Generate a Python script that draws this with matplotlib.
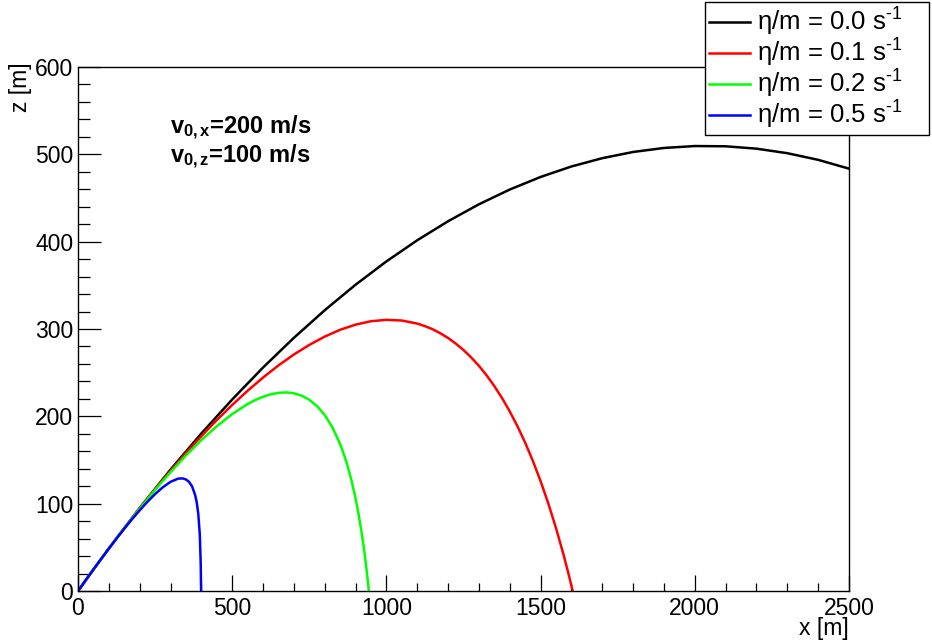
import matplotlib.pyplot as plt
from matplotlib.ticker import MultipleLocator

plt.rcParams['font.family'] = ['Liberation Sans', 'DejaVu Sans']
plt.rcParams['mathtext.fontset'] = 'custom'
plt.rcParams['mathtext.rm'] = 'Liberation Sans'
plt.rcParams['mathtext.bf'] = 'Liberation Sans:bold'
plt.rcParams['mathtext.it'] = 'Liberation Sans:italic'

# trajectories (x [m], z [m])
x_00 = [0, 100, 200, 300, 400, 500, 600, 700, 800, 900, 1000, 1100, 1200, 1300,
        1400, 1500, 1600, 1700, 1800, 1900, 2000, 2100, 2200, 2300, 2400, 2500]
z_00 = [0, 48.8, 95.1, 139.0, 180.4, 219.3, 255.9, 289.9, 321.5, 350.7, 377.4,
        401.6, 423.4, 442.8, 459.7, 474.1, 486.1, 495.6, 502.7, 507.3, 509.5,
        509.2, 506.5, 501.3, 493.7, 483.6]

x_01 = [0, 50, 100, 150, 200, 250, 300, 350, 400, 450, 500, 550, 600, 650, 700,
        750, 800, 850, 900, 950, 1000, 1050, 1100, 1125, 1150, 1175, 1200, 1225,
        1250, 1275, 1300, 1325, 1350, 1375, 1400, 1425, 1450, 1475, 1500, 1525,
        1550, 1575, 1590, 1600, 1604]
z_01 = [0, 24.7, 48.7, 72.1, 94.7, 116.6, 137.7, 158.0, 177.3, 195.7, 213.0,
        229.3, 244.4, 258.3, 270.8, 281.8, 291.3, 299.1, 305.0, 308.9, 310.5,
        309.7, 306.2, 303.3, 299.7, 295.1, 289.7, 283.3, 275.9, 267.4, 257.8,
        246.9, 234.6, 220.9, 205.6, 188.6, 169.8, 148.9, 125.8, 100.2, 72.0,
        40.7, 20.3, 5.9, 0]

x_02 = [0, 50, 100, 150, 200, 250, 300, 350, 400, 450, 500, 550, 575, 600, 625,
        650, 675, 700, 725, 750, 775, 800, 825, 850, 862, 875, 888, 900, 910,
        920, 928, 935, 940, 943]
z_02 = [0, 24.7, 48.7, 71.9, 94.3, 115.8, 136.1, 155.2, 172.8, 188.7, 202.6,
        214.1, 218.7, 222.4, 225.2, 226.9, 227.4, 226.4, 223.7, 219.0, 211.7,
        201.5, 187.4, 168.2, 156.7, 142.1, 124.9, 106.0, 87.6, 66.2, 46.3,
        26.5, 10.6, 0]

x_05 = [0, 25, 50, 75, 100, 125, 150, 175, 200, 225, 250, 275, 300, 325, 340,
        350, 360, 370, 380, 385, 390, 395, 398, 399, 399.1]
z_05 = [0, 12.4, 24.7, 36.7, 48.5, 60.1, 71.3, 82.1, 92.4, 102.1, 111.0, 118.8,
        125.0, 128.7, 128.9, 127.7, 125.0, 119.7, 109.7, 101.4, 88.5, 64.3,
        30.1, 3.5, 0]

labels = ['\u03b7/m = 0.0 s$^{\\text{-1}}$', '\u03b7/m = 0.1 s$^{\\text{-1}}$',
          '\u03b7/m = 0.2 s$^{\\text{-1}}$', '\u03b7/m = 0.5 s$^{\\text{-1}}$']
colors = ['#000000', '#ff0000', '#00ff00', '#0000ff']

fig = plt.figure(figsize=(9.32, 6.41), dpi=100)
ax = fig.add_axes([78 / 932, 50 / 641, 771 / 932, 524 / 641])

for xs, zs, c, lab in zip([x_00, x_01, x_02, x_05], [z_00, z_01, z_02, z_05], colors, labels):
    ax.plot(xs, zs, color=c, lw=1.8, label=lab)

ax.set_xlim(0, 2500)
ax.set_ylim(0, 600)
ax.xaxis.set_major_locator(MultipleLocator(500))
ax.xaxis.set_minor_locator(MultipleLocator(100))
ax.yaxis.set_major_locator(MultipleLocator(100))
ax.yaxis.set_minor_locator(MultipleLocator(20))
ax.tick_params(axis='both', which='both', direction='in', width=0.9, labelsize=16.5)
ax.tick_params(axis='x', which='major', length=11.3, pad=4.5)
ax.tick_params(axis='x', which='minor', length=5.8)
ax.tick_params(axis='y', which='major', length=16.3, pad=3.5)
ax.tick_params(axis='y', which='minor', length=8.6)
for s in ax.spines.values():
    s.set_linewidth(1.0)

fig.text(849 / 932, 1 - 629 / 641, 'x [m]', ha='right', va='center', fontsize=16.5)
fig.text(20 / 932, 1 - 62 / 641, 'z [m]', ha='center', va='top', rotation=90, fontsize=16.5)

ax.text(170 / 932, 1 - 134 / 641, r'$\mathbf{v_{0,x}}$' + '=200 m/s', transform=fig.transFigure,
        fontsize=17, fontweight='bold', va='baseline')
ax.text(170 / 932, 1 - 163 / 641, r'$\mathbf{v_{0,z}}$' + '=100 m/s', transform=fig.transFigure,
        fontsize=17, fontweight='bold', va='baseline')

leg = ax.legend(loc='upper left', bbox_to_anchor=(705 / 932, 1 - 131 / 641, 224 / 932, 129 / 641),
                bbox_transform=fig.transFigure, mode='expand', borderaxespad=0, fancybox=False,
                framealpha=1, edgecolor='black', fontsize=18.5, handlelength=1.6,
                handletextpad=0.27, labelspacing=-0.045, borderpad=0.15)
leg.get_frame().set_linewidth(1.0)

fig.savefig('out.png', dpi=100)
